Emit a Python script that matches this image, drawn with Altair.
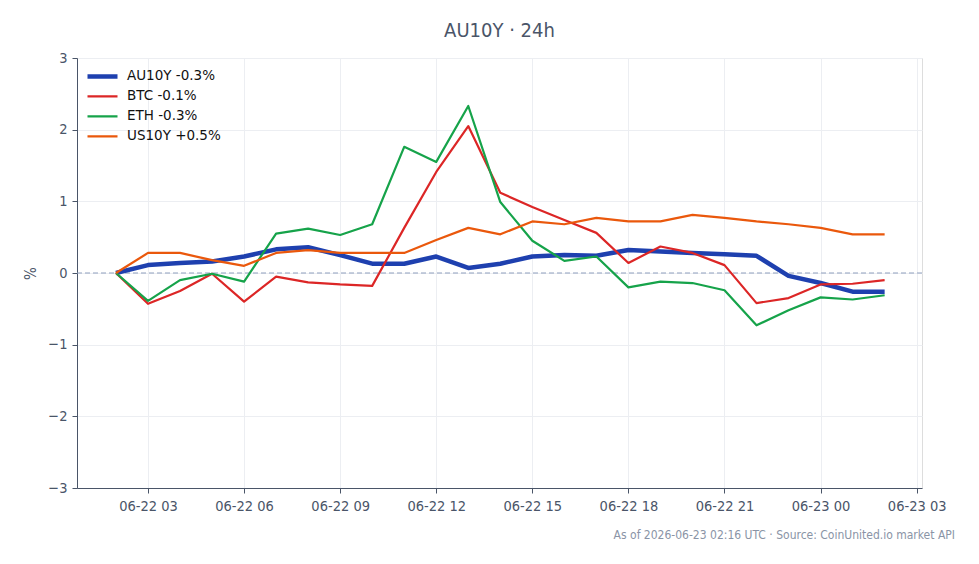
import altair as alt
import pandas as pd

# Hourly % change since 06-22 02:00 UTC
hours = pd.date_range("2026-06-22T02:00:00Z", periods=25, freq="h")

au10y = [0.00, 0.11, 0.14, 0.16, 0.23, 0.33, 0.36, 0.25, 0.13, 0.13, 0.23, 0.07, 0.13,
         0.23, 0.25, 0.24, 0.32, 0.30, 0.28, 0.26, 0.24, -0.04, -0.14, -0.26, -0.26]
btc = [0.00, -0.43, -0.25, -0.01, -0.40, -0.05, -0.13, -0.16, -0.18, 0.63, 1.41, 2.05, 1.12,
       0.92, 0.74, 0.56, 0.14, 0.37, 0.28, 0.11, -0.42, -0.35, -0.16, -0.15, -0.10]
eth = [0.00, -0.39, -0.10, -0.01, -0.12, 0.55, 0.62, 0.53, 0.68, 1.76, 1.55, 2.33, 0.99,
       0.45, 0.17, 0.23, -0.20, -0.12, -0.14, -0.24, -0.73, -0.52, -0.34, -0.37, -0.31]
us10y = [0.00, 0.28, 0.28, 0.18, 0.10, 0.28, 0.32, 0.28, 0.28, 0.28, 0.46, 0.63, 0.54,
         0.72, 0.68, 0.77, 0.72, 0.72, 0.81, 0.77, 0.72, 0.68, 0.63, 0.54, 0.54]

names = ["AU10Y", "BTC", "ETH", "US10Y"]
series = [au10y, btc, eth, us10y]
colors = ["#1e40af", "#dc2626", "#16a34a", "#ea580c"]
widths = [4.5, 2.2, 2.2, 2.2]

labels = [f"{n} {s[-1]:+.1f}%" for n, s in zip(names, series)]

rows = []
for lab, vals in zip(labels, series):
    for t, v in zip(hours, vals):
        rows.append({"time": t.isoformat(), "series": lab, "pct": v})
df = pd.DataFrame(rows)

tick_times = pd.date_range("2026-06-22T03:00:00Z", periods=9, freq="3h")
tick_ms = [int(t.timestamp() * 1000) for t in tick_times]
x_domain = [int(pd.Timestamp("2026-06-22T00:47:00Z").timestamp() * 1000),
            int(pd.Timestamp("2026-06-23T03:10:00Z").timestamp() * 1000)]

axis_color = "#4a5568"
grid_color = "#eceef2"
cond_font = "DejaVu Sans Condensed"

legend_opts = dict(title=None, orient="none", legendX=8, legendY=8.5,
                   symbolType="stroke", symbolSize=900, labelFont="DejaVu Sans",
                   labelFontSize=13.5, labelColor="#111111", rowPadding=0,
                   clipHeight=19.8, labelOffset=7)

x_enc = alt.X(
    "time:T",
    scale=alt.Scale(type="utc", domain=x_domain),
    axis=alt.Axis(values=tick_ms, labelExpr="utcFormat(datum.value, '%m-%d %H')",
                  title=None, labelFont=cond_font, labelFontSize=14.5,
                  labelColor=axis_color, labelPadding=6, tickSize=5,
                  tickColor=axis_color, domainColor=axis_color, gridColor=grid_color),
)

y_enc = alt.Y(
    "pct:Q",
    scale=alt.Scale(domain=[-3, 3]),
    axis=alt.Axis(values=[-3, -2, -1, 0, 1, 2, 3], title="%",
                  titleFont=cond_font, titleFontSize=15, titleFontWeight="normal",
                  titleColor=axis_color, titlePadding=9,
                  labelFont=cond_font, labelFontSize=14.5, labelColor=axis_color,
                  labelPadding=5, tickSize=5, tickColor=axis_color,
                  domainColor=axis_color, gridColor=grid_color,
                  labelExpr="datum.value < 0 ? '\u2212' + abs(datum.value) : '' + datum.value"),
)

lines = alt.Chart(df).mark_line(strokeJoin="round").encode(
    x=x_enc,
    y=y_enc,
    color=alt.Color("series:N", scale=alt.Scale(domain=labels, range=colors),
                    legend=alt.Legend(**legend_opts)),
    strokeWidth=alt.StrokeWidth("series:N",
                                scale=alt.Scale(type="ordinal", domain=labels, range=widths),
                                legend=alt.Legend(**legend_opts)),
    order=alt.Order("time:T"),
)

zero = alt.Chart(pd.DataFrame({"pct": [0]})).mark_rule(
    color="#8fa0bd", strokeDash=[5, 3], strokeWidth=1.2
).encode(y="pct:Q")

footer = alt.Chart(pd.DataFrame({"txt": ["As of 2026-06-23 02:16 UTC \u00b7 Source: CoinUnited.io market API"]})).mark_text(
    align="right", baseline="middle", font=cond_font, fontSize=12, color="#8a94a6"
).encode(x=alt.value(878), y=alt.value(477), text="txt:N")

chart = alt.layer(zero, lines, footer).properties(
    width=845, height=430,
    padding={"left": 77, "top": 58, "right": 57, "bottom": 76},
    autosize=alt.AutoSizeParams(type="none"),
    title=alt.TitleParams("AU10Y \u00b7 24h", font=cond_font, fontSize=20,
                          fontWeight="normal", color=axis_color, anchor="middle",
                          offset=9),
).configure_view(stroke=None).configure(background="white")

chart.save("out.html", embed_options={"renderer": "svg", "actions": False})
